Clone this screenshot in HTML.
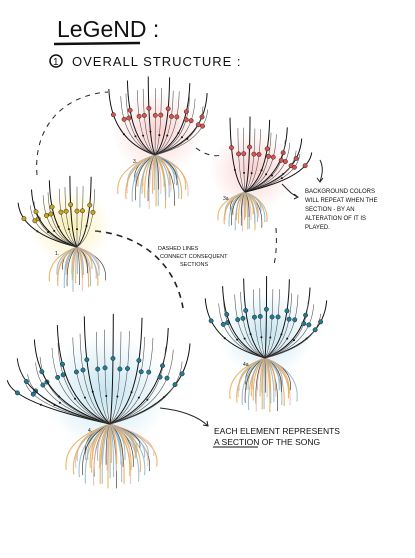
<!DOCTYPE html>
<html><head><meta charset="utf-8"><style>
html,body{margin:0;padding:0;background:#fff;width:415px;height:558px;overflow:hidden}
svg{display:block}
.t{font-family:"Liberation Sans",sans-serif;fill:#111}
</style></head><body>
<svg id="s" width="415" height="558" viewBox="0 0 415 558">
<defs>
<radialGradient id="gy"><stop offset="0" stop-color="#f6e27a" stop-opacity=".55"/><stop offset="1" stop-color="#f6e27a" stop-opacity="0"/></radialGradient>
<radialGradient id="gr"><stop offset="0" stop-color="#f4a3a0" stop-opacity=".5"/><stop offset="1" stop-color="#f4a3a0" stop-opacity="0"/></radialGradient>
<radialGradient id="gb"><stop offset="0" stop-color="#9fd3e6" stop-opacity=".6"/><stop offset="1" stop-color="#9fd3e6" stop-opacity="0"/></radialGradient>
</defs>
<text class="t" x="57" y="37" font-size="23">LeGeND :</text>
<line x1="54" y1="44" x2="140" y2="43" stroke="#111" stroke-width="2.5"/>
<circle cx="56" cy="61" r="6" fill="none" stroke="#111" stroke-width="1.5"/>
<text class="t" x="53" y="65" font-size="10">1</text>
<text class="t" x="72" y="66" font-size="13" letter-spacing="1">OVERALL STRUCTURE :</text>
<g fill="none" stroke="#222" stroke-width="1" stroke-dasharray="5,5">
<path d="M37 175 C33 125 65 95 108 92"/>
<path d="M196 148 C205 155 215 157 222 155"/>
<path d="M276 228 C277 245 276 255 274 265"/>
<path d="M95 231 C140 235 175 262 183 308" stroke-width="1.6" stroke-dasharray="6,5"/>
</g>
<g id="fl"></g>
<g class="t" font-size="6">
<text x="305" y="193">BACKGROUND COLORS</text>
<text x="305" y="202">WILL REPEAT WHEN THE</text>
<text x="305" y="211">SECTION - BY AN</text>
<text x="305" y="220">ALTERATION OF IT IS</text>
<text x="305" y="229">PLAYED.</text>
</g>
<g class="t" font-size="5.5">
<text x="158" y="250">DASHED LINES</text>
<text x="160" y="258">CONNECT CONSEQUENT</text>
<text x="180" y="266">SECTIONS</text>
</g>
<g class="t" font-size="8.5">
<text x="214" y="434">EACH ELEMENT REPRESENTS</text>
<text x="214" y="445">A SECTION OF THE SONG</text>
</g>
<line x1="213" y1="447" x2="258" y2="447" stroke="#111"/>
<g fill="none" stroke="#222" stroke-width="1">
<path d="M320 160 C324 168 322 175 320 182 M317 178 L320 182 L323 178"/>
<path d="M282 184 C288 190 292 195 298 197 M294 194 L298 197 L294 199"/>
<path d="M160 408 C180 410 198 416 208 426 M203 425 L208 426 L207 421"/>
</g>
</svg>
<script>
const flowerNames=['flower-1','flower-3','flower-3a','flower-4a','flower-4'];
const flowerLabels=['1.','3.','3a','4a','4.'];
const flowerDots=['#c9a41a','#d9534f','#d9534f','#1f7d96','#1f7d96'];
const flowerGlow=['gy','gr','gr','gb','gb'];
// cx, cy, upper angle range, length, lower angle range, lower length, line count
const flowerGeom=[
 [77,247,-60,18,68,-40,45,45,14],
 [155,155,-38,55,75,-45,45,55,18],
 [245,192,-12,68,72,-45,40,40,16],
 [265,358,-50,58,78,-42,42,55,20],
 [110,424,-78,55,105,-45,55,65,26]
];
const lowColors=['#e9a94a','#8fb6cc','#222','#f0b9b0','#e9a94a','#8fb6cc'];
const g=document.getElementById('fl');
const NS='http://www.w3.org/2000/svg';
function mk(t,a){const e=document.createElementNS(NS,t);for(const k in a)e.setAttribute(k,a[k]);return e;}
flowerGeom.forEach((f,i)=>{
 const [cx,cy,a0,a1,L,b0,b1,L2,n]=f;
 const grp=mk('g',{});
 
 
 g.appendChild(grp);
 const glow=mk('ellipse',{cx:cx+(a0+a1)/2*0.3,cy:cy-L*0.3,rx:L*0.6,ry:L*0.55,fill:'url(#'+flowerGlow[i]+')'});
 
 
 grp.appendChild(glow);
 const m=n*2;
 for(let k=0;k<m;k++){
  const a=(b0+(b1-b0)*k/(m-1))*Math.PI/180;
  const len=L2*(0.8+0.2*Math.cos(k*1.7));
  const ex=cx+Math.sin(a)*len*0.95, ey=cy+Math.cos(a)*len;
  const qx=cx+Math.sin(a)*len*1.05, qy=cy+len*0.25;
  const p=mk('path',{d:`M${cx} ${cy} Q${qx} ${qy} ${ex} ${ey}`,fill:'none',stroke:lowColors[k%lowColors.length],'stroke-width':k%6==2?0.7:1.1,opacity:.85});
  
  
  grp.appendChild(p);
 }
 for(let k=0;k<n;k++){
  const a=(a0+(a1-a0)*k/(n-1))*Math.PI/180;
  const len=L*(0.9+0.1*Math.cos(k*2.1));
  const ex=cx+Math.sin(a)*len, ey=cy-Math.cos(a)*len*0.8-len*0.25;
  const qx=cx+Math.sin(a)*len*0.95, qy=cy-len*0.2;
  const p=mk('path',{d:`M${cx} ${cy} Q${qx} ${qy} ${ex} ${ey}`,fill:'none',stroke:k%3==0?'#111':'#555','stroke-width':k%3==0?1:0.6});
  
  
  grp.appendChild(p);
  [0.72,0.45].forEach((t,j)=>{
   if(j==1&&k%2)return;
   const x=(1-t)*(1-t)*cx+2*(1-t)*t*qx+t*t*ex, y=(1-t)*(1-t)*cy+2*(1-t)*t*qy+t*t*ey;
   const d=mk('circle',{cx:x,cy:y,r:j==0?2.2:1,fill:j==0?flowerDots[i]:'#111',stroke:'#222','stroke-width':j==0?0.5:0});
   
   
   grp.appendChild(d);
  });
 }
 const tx=mk('text',{x:cx-22,y:cy+8,'font-size':5,'class':'t'});
 tx.textContent=flowerLabels[i];
 
 
 grp.appendChild(tx);
});
</script>
</body></html>
